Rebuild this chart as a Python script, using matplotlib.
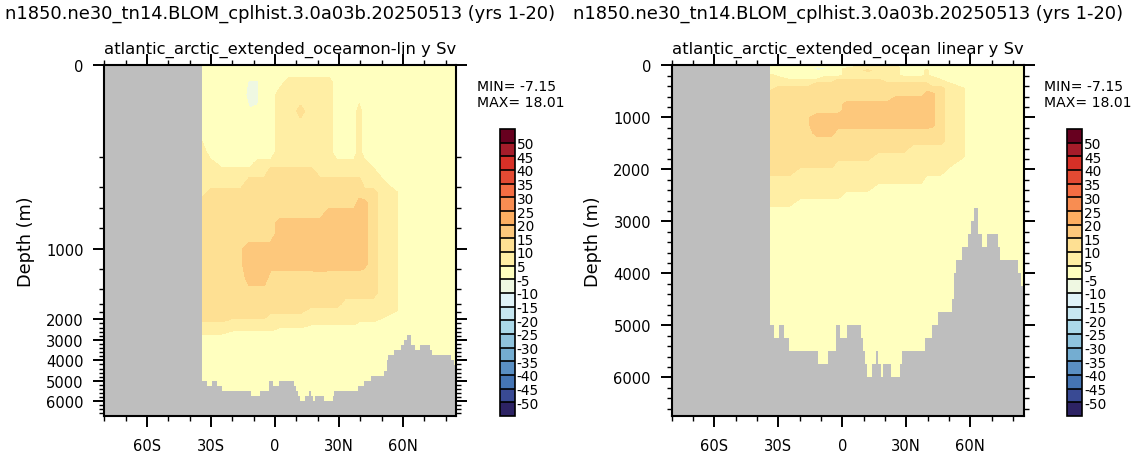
import numpy as np
import matplotlib
matplotlib.use("Agg")
import matplotlib.pyplot as plt
from matplotlib.colors import ListedColormap, BoundaryNorm
from matplotlib.ticker import FixedLocator

plt.rcParams['font.family'] = ['DejaVu Sans']
plt.rcParams['axes.unicode_minus'] = False

# ---------------- data ----------------
title = "n1850.ne30_tn14.BLOM_cplhist.3.0a03b.20250513 (yrs 1-20)"
region = "atlantic_arctic_extended_ocean"
right_strings = ["non-lin y Sv", "linear y Sv"]

lat = np.array([-34, -30, -25, -20, -16, -12, -8, -5, -2, 2, 7, 12, 17, 21, 25,
                29, 33, 37, 39.5, 42, 46, 50, 55, 60, 85])
depth = np.array([0, 15, 35, 65, 100, 140, 190, 240, 300, 370, 450, 550, 650, 750,
                  850, 1000, 1150, 1300, 1450, 1600, 1750, 1900, 2050, 2200, 2350,
                  2500, 2650, 2800, 3000, 6750])

# overturning stream function (Sv), rows = depth, columns = lat
moc = np.array([
    [0.5, 0.5, 0.5, 0.5, 0.5, 0.5, 0.5, 0.5, 0.5, 0.5, 0.5, 0.5, 0.5, 0.5, 0.5, 0.5, 0.5, 0.5, 0.5, 0.5, 0.5, 0.5, 0.5, 0.5, 0.5],
    [2, 2, 2, 2, 2, 2, 2, 2, 2, 2, 2, 2, 2, 2, 2, 2, 2, 2, 2, 2, 2, 2, 2, 2, 2],
    [2, 2, 2, 2, -1, -6, -5.5, 2, 2, 2, 7.5, 7.5, 7.5, 7.5, 7.5, 2, 2, 2, 2, 2, 2, 2, 2, 2, 2],
    [2, 2, 2, 2, -2, -7.15, -6.5, 2, 2, 7.5, 7.5, 7.5, 7.5, 7.5, 7.5, 2, 2, 2, 2, 2, 2, 2, 2, 2, 2],
    [2, 2, 2, 2, 0, -4.5, -4, 2, 2, 7.5, 7.5, 11.5, 7.5, 7.5, 7.5, 2, 2, 2, 7.5, 2, 2, 2, 2, 2, 2],
    [2, 2, 2, 2, 2, 2, 2, 2, 2, 7.5, 7.5, 7.5, 7.5, 7.5, 7.5, 2, 2, 2, 7.5, 2, 2, 2, 2, 2, 2],
    [7.5, 2, 2, 2, 2, 2, 2, 2, 2, 7.5, 7.5, 7.5, 7.5, 7.5, 7.5, 2, 2, 2, 7.5, 2, 2, 2, 2, 2, 2],
    [7.5, 7.5, 2, 2, 2, 2, 7.5, 7.5, 7.5, 7.5, 7.5, 7.5, 7.5, 7.5, 7.5, 7.5, 7.5, 7.5, 7.5, 7.5, 2, 2, 2, 2, 2],
    [7.5, 7.5, 7.5, 7.5, 7.5, 7.5, 7.5, 7.5, 12.5, 12.5, 12.5, 12.5, 12.5, 7.5, 7.5, 7.5, 7.5, 7.5, 7.5, 7.5, 7.5, 2, 2, 2, 2],
    [7.5, 7.5, 7.5, 7.5, 7.5, 12.5, 12.5, 12.5, 12.5, 12.5, 12.5, 12.5, 12.5, 12.5, 12.5, 12.5, 12.5, 12.5, 12.5, 7.5, 7.5, 7.5, 2, 2, 2],
    [7.5, 12.5, 12.5, 12.5, 12.5, 12.5, 12.5, 12.5, 12.5, 12.5, 12.5, 12.5, 12.5, 12.5, 12.5, 12.5, 12.5, 12.5, 12.5, 12.5, 12.5, 7.5, 8, 2, 2],
    [12.5, 12.5, 12.5, 12.5, 12.5, 12.5, 12.5, 12.5, 12.5, 12.5, 12.5, 12.5, 12.5, 12.5, 12.5, 12.5, 12.5, 12.5, 17, 16, 12.5, 7.5, 8, 2, 2],
    [12.5, 12.5, 12.5, 12.5, 12.5, 12.5, 12.5, 12.5, 12.5, 12.5, 12.5, 12.5, 12.5, 12.5, 17, 17, 17, 17, 17, 16, 12.5, 7.5, 8, 2, 2],
    [12.5, 12.5, 12.5, 12.5, 12.5, 12.5, 12.5, 12.5, 12.5, 17, 17, 17, 17, 17, 17, 17, 17, 17, 17, 16, 12.5, 7.5, 8, 2, 2],
    [12.5, 12.5, 12.5, 12.5, 12.5, 12.5, 12.5, 12.5, 12.5, 17, 17, 17, 17.5, 17.5, 17, 17, 17, 17, 17, 16, 12.5, 7.5, 8, 2, 2],
    [12.5, 12.5, 12.5, 12.5, 14.5, 17, 17, 17, 17, 17, 17, 17, 17, 18.01, 17, 17, 17, 17, 17, 16, 12.5, 7.5, 8, 2, 2],
    [12.5, 12.5, 12.5, 12.5, 14.5, 17, 17, 17, 17, 17, 17, 17, 17, 17.5, 17, 17, 17, 17, 17, 16, 12.5, 7.5, 8, 2, 2],
    [12.5, 12.5, 12.5, 12.5, 12.5, 17, 17, 17, 12.5, 12.5, 12.5, 12.5, 12.5, 12.5, 12.5, 12.5, 12.5, 12.5, 12.5, 12.5, 12.5, 7.5, 8, 2, 2],
    [12.5, 12.5, 12.5, 12.5, 12.5, 12.5, 12.5, 12.5, 12.5, 12.5, 12.5, 12.5, 12.5, 12.5, 12.5, 12.5, 12.5, 12.5, 12.5, 12.5, 12.5, 7.5, 8, 2, 2],
    [12.5, 12.5, 12.5, 12.5, 12.5, 12.5, 12.5, 12.5, 12.5, 12.5, 12.5, 12.5, 12.5, 12.5, 12.5, 12.5, 7.5, 7.5, 7.5, 7.5, 7.5, 7.5, 8, 2, 2],
    [12.5, 12.5, 12.5, 12.5, 12.5, 12.5, 12.5, 12.5, 12.5, 12.5, 12.5, 12.5, 7.5, 7.5, 7.5, 7.5, 7.5, 7.5, 7.5, 7.5, 7.5, 7.5, 8, 2, 2],
    [12.5, 12.5, 12.5, 12.5, 12.5, 12.5, 12.5, 12.5, 7.5, 7.5, 7.5, 7.5, 7.5, 7.5, 7.5, 7.5, 7.5, 7.5, 7.5, 7.5, 7.5, 7.5, 2, 2, 2],
    [12.5, 12.5, 12.5, 7.5, 7.5, 7.5, 7.5, 7.5, 7.5, 7.5, 7.5, 7.5, 7.5, 7.5, 7.5, 7.5, 7.5, 7.5, 7.5, 7.5, 7.5, 2, 2, 2, 2],
    [7.5, 7.5, 7.5, 7.5, 7.5, 7.5, 7.5, 7.5, 7.5, 7.5, 7.5, 7.5, 7.5, 7.5, 7.5, 7.5, 7.5, 7.5, 2, 2, 2, 2, 2, 2, 2],
    [7.5, 7.5, 7.5, 7.5, 7.5, 7.5, 7.5, 7.5, 7.5, 7.5, 7.5, 7.5, 2, 2, 2, 2, 2, 2, 2, 2, 2, 2, 2, 2, 2],
    [7.5, 7.5, 7.5, 7.5, 7.5, 7.5, 7.5, 7.5, 7.5, 2, 2, 2, 2, 2, 2, 2, 2, 2, 2, 2, 2, 2, 2, 2, 2],
    [7.5, 7.5, 7.5, 2, 2, 2, 2, 2, 2, 2, 2, 2, 2, 2, 2, 2, 2, 2, 2, 2, 2, 2, 2, 2, 2],
    [2, 2, 2, 2, 2, 2, 2, 2, 2, 2, 2, 2, 2, 2, 2, 2, 2, 2, 2, 2, 2, 2, 2, 2, 2],
    [1.5, 1.5, 1.5, 1.5, 1.5, 1.5, 1.5, 1.5, 1.5, 1.5, 1.5, 1.5, 1.5, 1.5, 1.5, 1.5, 1.5, 1.5, 1.5, 1.5, 1.5, 1.5, 1.5, 1.5, 1.5],
    [0.5, 0.5, 0.5, 0.5, 0.5, 0.5, 0.5, 0.5, 0.5, 0.5, 0.5, 0.5, 0.5, 0.5, 0.5, 0.5, 0.5, 0.5, 0.5, 0.5, 0.5, 0.5, 0.5, 0.5, 0.5],
])

# ocean bottom (m): step starting at each latitude edge
bath_lat = [-80, -34, -32, -29.7, -27.2, -25, -11.2, -6.9, -3, -1.1, 2, 8.7, 9.8,
            10.6, 11.7, 13.9, 15.8, 16.9, 18, 18.9, 22.8, 27, 27.8, 38.75, 41.9, 45,
            51.25, 52.3, 53.1, 55.9, 59, 60.3, 61.9, 63.75, 65.6, 68, 72.9, 73.8,
            82.3, 83.7, 85]
bath_depth = [0, 5000, 5250, 5000, 5250, 5500, 5750, 5500, 5000, 5250, 5000, 5250,
              5500, 5750, 6000, 5750, 5500, 5750, 6000, 5750, 6000, 5750, 5500, 5250,
              5000, 4750, 4500, 4000, 3750, 3500, 3250, 3000, 2750, 3250, 3500, 3250,
              3500, 3750, 4000, 4250, 4250]

levels = [-50, -45, -40, -35, -30, -25, -20, -15, -10, -5,
          5, 10, 15, 20, 25, 30, 35, 40, 45, 50]
level_colors = ['#2d2364', '#394a94', '#4575b4', '#5a8fc3', '#74add1', '#8fc3dd',
                '#abd9e9', '#c7e7f1', '#e0f3f8', '#eff8e2', '#ffffbf', '#ffeea4',
                '#fee093', '#fdc87c', '#fdae61', '#f88d52', '#f46d43', '#e34a33',
                '#d73027', '#a51c2a', '#67001f']

xticks = [-60, -30, 0, 30, 60]
xticklabels = ['60S', '30S', '0', '30N', '60N']
yticks = [0, 1000, 2000, 3000, 4000, 5000, 6000]

# non-linear depth axis of the left panel (depth -> offset from top in px)
nl_depth = [0, 200, 400, 600, 800, 1000, 1200, 1400, 1600, 1800, 2000, 3000, 4000, 5000, 6000, 6750]
nl_pos = [0, 91.7, 122, 143, 163.3, 183.7, 204, 224, 239, 247.3, 254.3, 274.7, 295.3, 315.7, 335.7, 351.3]

# ---------------- figure ----------------
W, H = 1134, 456
fig = plt.figure(figsize=(W / 100, H / 100), dpi=100)


def fx(px):
    return px / W


def fy(py):
    return 1 - py / H


land = '#bebebe'
cmap = ListedColormap(level_colors[1:-1])
cmap.set_under(level_colors[0])
cmap.set_over(level_colors[-1])
norm = BoundaryNorm(levels, cmap.N)

fwd = lambda d: np.interp(d, nl_depth, nl_pos)
inv = lambda p: np.interp(p, nl_pos, nl_depth)

ax_left = [104.3, 671.6]
ax_top, ax_bot, ax_w = 66.3, 417.3, 352.0

for i, L in enumerate(ax_left):
    ax = fig.add_axes([fx(L), fy(ax_bot), ax_w / W, (ax_bot - ax_top) / H])
    ax.set_facecolor(land)
    if i == 0:
        ax.set_yscale('function', functions=(fwd, inv))
    cf = ax.contourf(lat, depth, moc, levels=levels, cmap=cmap, norm=norm,
                     extend='both', zorder=1)
    ax.fill_between(bath_lat, bath_depth, 7000, step='post', color=land,
                    lw=0, zorder=2)
    ax.set_xlim(-80, 85)
    ax.set_ylim(6750, 0)

    ax.set_xticks(xticks)
    ax.set_xticklabels(xticklabels)
    ax.xaxis.set_minor_locator(FixedLocator(list(range(-80, 90, 10))))
    ax.set_yticks(yticks)
    ax.set_yticklabels([str(v) for v in yticks])
    ax.yaxis.set_minor_locator(FixedLocator(list(range(0, 6800, 200))))
    ax.tick_params(which='both', direction='out', top=True, right=True,
                   labeltop=False, labelright=False, labelsize=10.6, zorder=5)
    ax.tick_params(which='major', length=7.9, width=1.4)
    ax.tick_params(which='minor', length=3.6, width=1.0)
    ax.tick_params(axis='x', which='major', pad=7.6)
    ax.tick_params(axis='y', which='major', pad=7.0)
    for s in ax.spines.values():
        s.set_linewidth(1.5)
        s.set_zorder(5)

    fig.text(fx(L - 78.3), fy(242), 'Depth (m)', rotation=90, ha='center',
             va='center', fontsize=12.7)
    fig.text(fx(L + ax_w / 2), fy(18.3), title, ha='center', va='baseline',
             fontsize=12.9)
    fig.text(fx(L), fy(54), region, ha='left', va='baseline', fontsize=11.8)
    fig.text(fx(L + ax_w), fy(54), right_strings[i], ha='right', va='baseline',
             fontsize=11.8)
    fig.text(fx(L + 372.4), fy(90.7), f"MIN= {moc.min():.2f}", ha='left',
             va='baseline', fontsize=10.1)
    fig.text(fx(L + 372.4), fy(107.3), f"MAX= {moc.max():.2f}", ha='left',
             va='baseline', fontsize=10.1)

    cax = fig.add_axes([fx(L + 395.2), fy(417), 15.5 / W, (417 - 130) / H])
    cb = fig.colorbar(cf, cax=cax, drawedges=True, extendrect=True,
                      extendfrac='auto')
    cb.set_ticks(levels, labels=[str(v) for v in levels])
    cb.ax.tick_params(length=0, labelsize=9.8, pad=1.2)
    cb.outline.set_linewidth(1.2)
    cb.dividers.set_linewidth(1.2)
    cb.dividers.set_color('black')

fig.savefig('out.png', dpi=100)
